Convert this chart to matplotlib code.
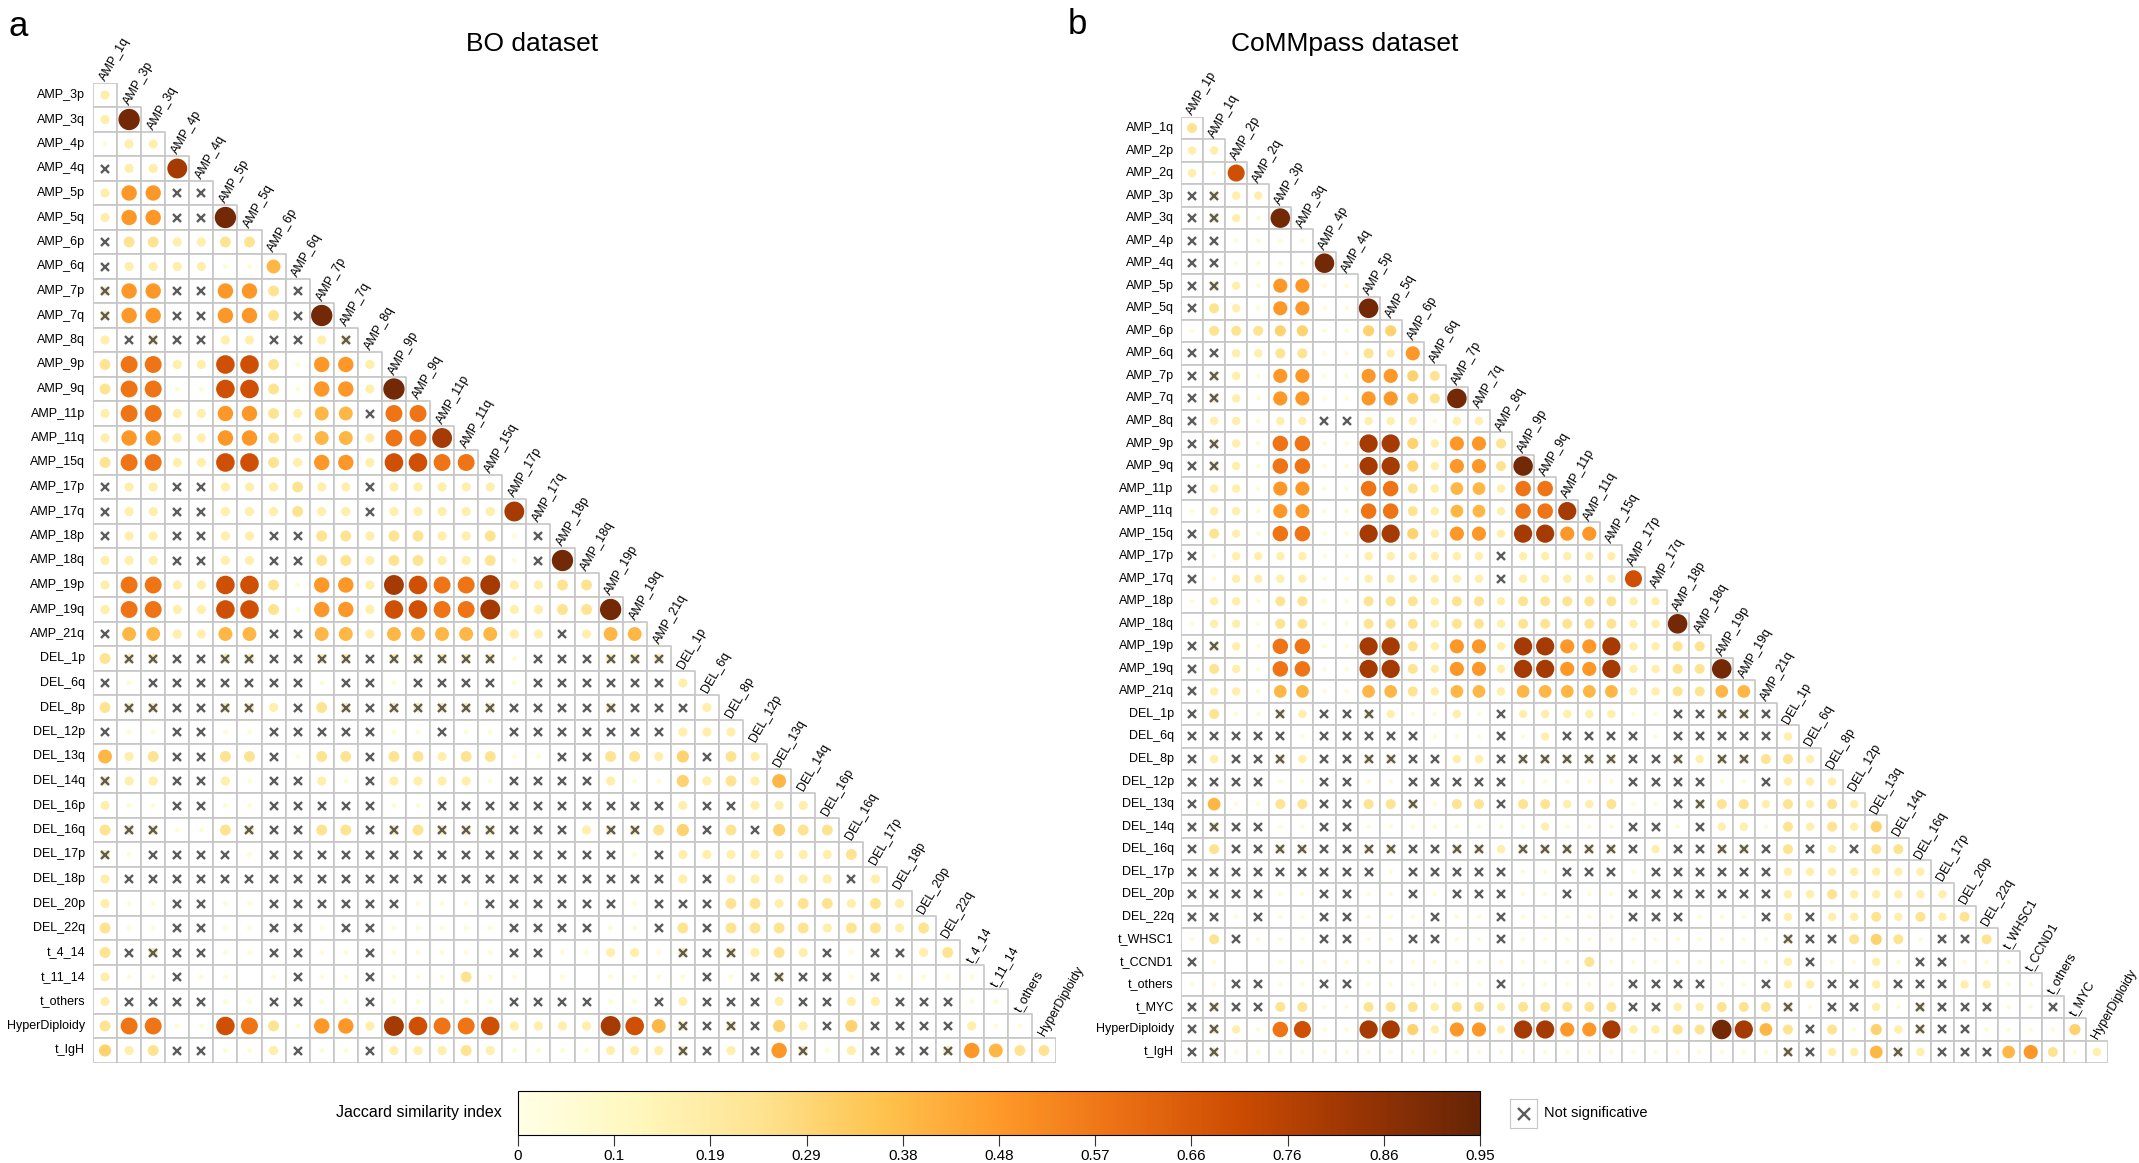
import numpy as np
import matplotlib.pyplot as plt
from matplotlib.patches import Rectangle
from matplotlib.collections import PatchCollection
from matplotlib.cm import ScalarMappable
from matplotlib.colors import Normalize

plt.rcParams['font.family'] = ['Liberation Sans', 'DejaVu Sans']

# cell codes: '.'..'9' = Jaccard level, 'x' = not significant, 'X' = not significant over a faint dot, '-' = empty
levels = {'.': 0.05, '1': 0.17, '2': 0.24, '3': 0.3, '4': 0.39, '5': 0.48,
          '6': 0.58, '7': 0.7, '8': 0.8, '9': 0.92, 'X': 0.17}

bo_vars = ["AMP_1q", "AMP_3p", "AMP_3q", "AMP_4p", "AMP_4q", "AMP_5p", "AMP_5q", "AMP_6p",
           "AMP_6q", "AMP_7p", "AMP_7q", "AMP_8q", "AMP_9p", "AMP_9q", "AMP_11p", "AMP_11q",
           "AMP_15q", "AMP_17p", "AMP_17q", "AMP_18p", "AMP_18q", "AMP_19p", "AMP_19q", "AMP_21q",
           "DEL_1p", "DEL_6q", "DEL_8p", "DEL_12p", "DEL_13q", "DEL_14q", "DEL_16p", "DEL_16q",
           "DEL_17p", "DEL_18p", "DEL_20p", "DEL_22q", "t_4_14", "t_11_14", "t_others",
           "HyperDiploidy", "t_IgH"]

bo_cells = [
    "1",
    "19",
    ".11",
    "x118",
    "155xx",
    "155xx9",
    "x221122",
    "x1111..4",
    "X55xx552x",
    "X55xx552x9",
    "1xXxx11xx1X",
    "26611772.551",
    "266..772.5519",
    "16611552144x66",
    "155115521441668",
    "2661177215517766",
    "x11xx111211x11111",
    "x11xx111211x111118",
    "x11xx11xx22122112.x",
    "111xx11xx22122112.x9",
    "16611772.551876681122",
    "16611772.5517766811229",
    "x441144xx4414444411x144",
    "2XXxxXXxxXXxXXXXX.xxxXXX",
    "x.xxxxxxx.xx.xxxx.xxxxxx1",
    "2XXxxXX1x2XxXXXXXxxxxXxxx1",
    "x..xx..xxxxx..x..xxxxxxx111",
    "412xx22x.22x22122..xx2213x21",
    "X11xx1.xx1.x1111.xxxx1..31214",
    "1..xx..xxxxx..xxxxxxxxxx1xx111",
    "2XX..2Xxx22xX2XXXxxx1XX23x2x322",
    "X.xxxx.xxxxxxxxxxxxxxx.x11111112",
    "1xxxxxxxxxxxxxxxxxxxxxxx1x11111x1",
    "1..xx..xxxxxx...xxxxxx.xxx22122121",
    "2..xx..xx.xx.....xxxx..x2x222212212",
    "2xXxx..xx..x.....xx..11.XxX121x.xx12",
    "1..x..-.x..x...2..-.-....x.xXxx.x....",
    "1xxxx..xx..x.....xxxx..x1xxx1xx11xxx..",
    "266..762.551876671111874XxXx31x3xxxx1..",
    "312xx..1x..x11121....111Xx1x5X.1xxxX5422",
]

cm_vars = ["AMP_1p", "AMP_1q", "AMP_2p", "AMP_2q", "AMP_3p", "AMP_3q", "AMP_4p", "AMP_4q",
           "AMP_5p", "AMP_5q", "AMP_6p", "AMP_6q", "AMP_7p", "AMP_7q", "AMP_8q", "AMP_9p",
           "AMP_9q", "AMP_11p", "AMP_11q", "AMP_15q", "AMP_17p", "AMP_17q", "AMP_18p", "AMP_18q",
           "AMP_19p", "AMP_19q", "AMP_21q", "DEL_1p", "DEL_6q", "DEL_8p", "DEL_12p", "DEL_13q",
           "DEL_14q", "DEL_16q", "DEL_17p", "DEL_20p", "DEL_22q", "t_WHSC1", "t_CCND1",
           "t_others", "t_MYC", "HyperDiploidy", "t_IgH"]

cm_cells = [
    "2",
    "11",
    "1.7",
    "xX11",
    "xX1.9",
    "xx....",
    "xx....9",
    "xX1.55..",
    "x21.55..9",
    ".22233..33",
    "xx1122..215",
    "xX1.55..5532",
    "xX1.55..55329",
    "x11.11xx111.11",
    "xX1.66..8831552",
    "xX1.66..88315529",
    "x11.55..662144166",
    ".11.55..6621441668",
    "x21.66..88315518855",
    "x.1111..111111x11111",
    "x.1111..111111x111117",
    ".11.22..22212212222211",
    ".11.22..222122122222119",
    "xX1.66..8821551885581122",
    "x21.66..88215518855811229",
    "x11.44..442144144444112244",
    "x2..X1xxX1..1.x11111..xxXXx",
    "xxxxx.xxxxx...x.1xxxx.xxxxx1",
    "x1xxX1xxXXxx11xXXXXXxxX1XX221",
    "xxxx..xx..xxxxx.....xxxx..x111",
    "x4..22xx22X.22x22112..xX2212121",
    "xXxx..xx........1...xx.x11.21213",
    "x2xxXXxxXXxxXX1XXXXXx1xxXXx2x1x22",
    "xxxxxxxxx.xxxxx..xxx.xxxxxx1111111",
    "xxxx..xx..x.xxx..x..xxxxxxx11211111",
    "xx.x..xx...x..x.....xxx...x1x1121212",
    ".2x...xx..xx..x............Xxx232.xx2",
    "x.--..............2........1x..1.xx...",
    "..xx..xx......x.....xxxx..x11xx1xxx11..",
    "xXxx22..222122122222xx11222X.xx1.Xxxx..x",
    "xX1.67..88315518855811229842x2.31Xxx....3",
    "xX.........................Xx114X1xxx452.1",
]

cbar_ticks = [0, 0.095, 0.19, 0.285, 0.38, 0.475, 0.57, 0.665, 0.76, 0.855, 0.95]
cbar_labels = ["0", "0.1", "0.19", "0.29", "0.38", "0.48", "0.57", "0.66", "0.76", "0.86", "0.95"]

VMAX = 0.95
cmap = plt.get_cmap('YlOrBr')
W, H = 2139, 1163

fig = plt.figure(figsize=(W / 100, H / 100), dpi=100)


def box(x0, y0, x1, y1):
    return [x0 / W, 1 - y1 / H, (x1 - x0) / W, (y1 - y0) / H]


def draw_panel(ax, names, cells):
    n = len(cells)
    for i, row in enumerate(cells):
        assert len(row) == i + 1, (names[i + 1], len(row))
    ax.set_xlim(-0.5, n - 0.5)
    ax.set_ylim(n - 0.5, -0.5)
    ax.axis('off')

    rects = [Rectangle((j - 0.5, i - 0.5), 1, 1) for i in range(n) for j in range(i + 1)]
    ax.add_collection(PatchCollection(rects, facecolor='white', edgecolor='#c6c6c6',
                                      linewidth=1.2))

    cell_pt = fig.get_figwidth() * ax.get_position().width / n * 72
    xs, ys, vs, nx, ny = [], [], [], [], []
    for i, row in enumerate(cells):
        for j, c in enumerate(row):
            if c in levels:
                xs.append(j)
                ys.append(i)
                vs.append(levels[c])
            if c in 'xX':
                nx.append(j)
                ny.append(i)
    vs = np.array(vs)
    diam = 0.9 * np.sqrt(vs / VMAX) * cell_pt
    ax.scatter(xs, ys, s=diam ** 2, c=vs, cmap=cmap, vmin=0, vmax=VMAX,
               linewidths=0, zorder=3)
    ax.plot(nx, ny, 'x', color='#5c5c5c', ms=6.3, mew=1.7, zorder=4, linestyle='none')

    for i in range(n):
        ax.text(-0.5 - 0.33, i, names[i + 1], ha='right', va='center', fontsize=9)
        ax.text(i - 0.1, i - 0.62, names[i], rotation=60, rotation_mode='anchor',
                ha='left', va='center', fontsize=9)


ax_bo = fig.add_axes(box(93, 82.75, 1056, 1062.75))
draw_panel(ax_bo, bo_vars, bo_cells)
ax_cm = fig.add_axes(box(1181, 116.7, 2108, 1063.3))
draw_panel(ax_cm, cm_vars, cm_cells)

fig.text(532 / W, 1 - 44 / H, "BO dataset", ha='center', va='center', fontsize=19)
fig.text(1345 / W, 1 - 44 / H, "CoMMpass dataset", ha='center', va='center', fontsize=19)
fig.text(8 / W, 1 - 26 / H, "a", ha='left', va='center', fontsize=25)
fig.text(1068 / W, 1 - 24 / H, "b", ha='left', va='center', fontsize=25)

# colour bar
cax = fig.add_axes(box(518, 1091, 1480, 1135))
cb = fig.colorbar(ScalarMappable(norm=Normalize(0, VMAX), cmap=cmap), cax=cax,
                  orientation='horizontal', ticks=cbar_ticks)
cb.ax.set_xticklabels(cbar_labels)
cb.ax.tick_params(length=8, width=0.8, pad=2, labelsize=11, color='#333333')
cb.outline.set_linewidth(0.8)
fig.text(502 / W, 1 - 1113 / H, "Jaccard similarity index", ha='right', va='center',
         fontsize=11.5)

# not significant legend
lax = fig.add_axes(box(1510, 1099, 1537, 1128))
lax.set_xlim(-1, 1)
lax.set_ylim(-1, 1)
lax.set_xticks([])
lax.set_yticks([])
for s in lax.spines.values():
    s.set_color('#c6c6c6')
lax.plot([0], [0], 'x', color='#5c5c5c', ms=9, mew=1.7)
fig.text(1544 / W, 1 - 1113 / H, "Not significative", ha='left', va='center', fontsize=10.5)

fig.savefig('out.png', dpi=100)
